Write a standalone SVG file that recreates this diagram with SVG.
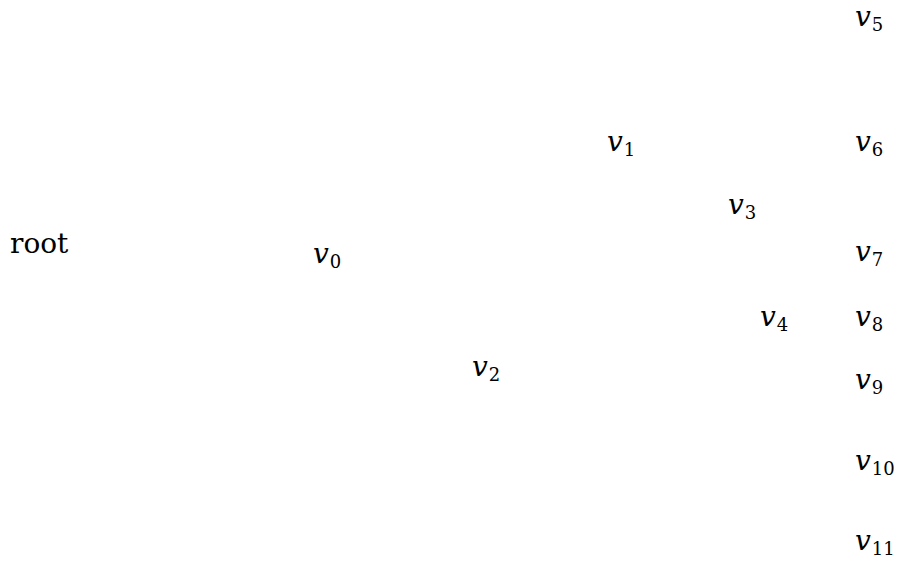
<svg xmlns="http://www.w3.org/2000/svg" width="898" height="561" viewBox="0 0 898 561">
<style>
text{font-family:'DejaVu Serif','Liberation Serif',serif;font-size:28px;fill:#000}
.v{font-style:italic}
.s{font-size:18px}
</style>
<rect width="898" height="561" fill="#fff"/>
<g id="connectors"></g>
<g id="root"><text x="10" y="253">root</text></g>
<g id="v0"><text x="313" y="263"><tspan class="v">v</tspan><tspan class="s" dx="1" dy="5">0</tspan></text></g>
<g id="v1"><text x="607" y="151"><tspan class="v">v</tspan><tspan class="s" dx="1" dy="5">1</tspan></text></g>
<g id="v2"><text x="472" y="376"><tspan class="v">v</tspan><tspan class="s" dx="1" dy="5">2</tspan></text></g>
<g id="v3"><text x="728" y="214"><tspan class="v">v</tspan><tspan class="s" dx="1" dy="5">3</tspan></text></g>
<g id="v4"><text x="760" y="326"><tspan class="v">v</tspan><tspan class="s" dx="1" dy="5">4</tspan></text></g>
<g id="v5"><text x="855" y="26"><tspan class="v">v</tspan><tspan class="s" dx="1" dy="5">5</tspan></text></g>
<g id="v6"><text x="855" y="151"><tspan class="v">v</tspan><tspan class="s" dx="1" dy="5">6</tspan></text></g>
<g id="v7"><text x="855" y="261"><tspan class="v">v</tspan><tspan class="s" dx="1" dy="5">7</tspan></text></g>
<g id="v8"><text x="855" y="326"><tspan class="v">v</tspan><tspan class="s" dx="1" dy="5">8</tspan></text></g>
<g id="v9"><text x="855" y="389"><tspan class="v">v</tspan><tspan class="s" dx="1" dy="5">9</tspan></text></g>
<g id="v10"><text x="855" y="470"><tspan class="v">v</tspan><tspan class="s" dx="1" dy="5">10</tspan></text></g>
<g id="v11"><text x="855" y="550"><tspan class="v">v</tspan><tspan class="s" dx="1" dy="5">11</tspan></text></g>
</svg>
